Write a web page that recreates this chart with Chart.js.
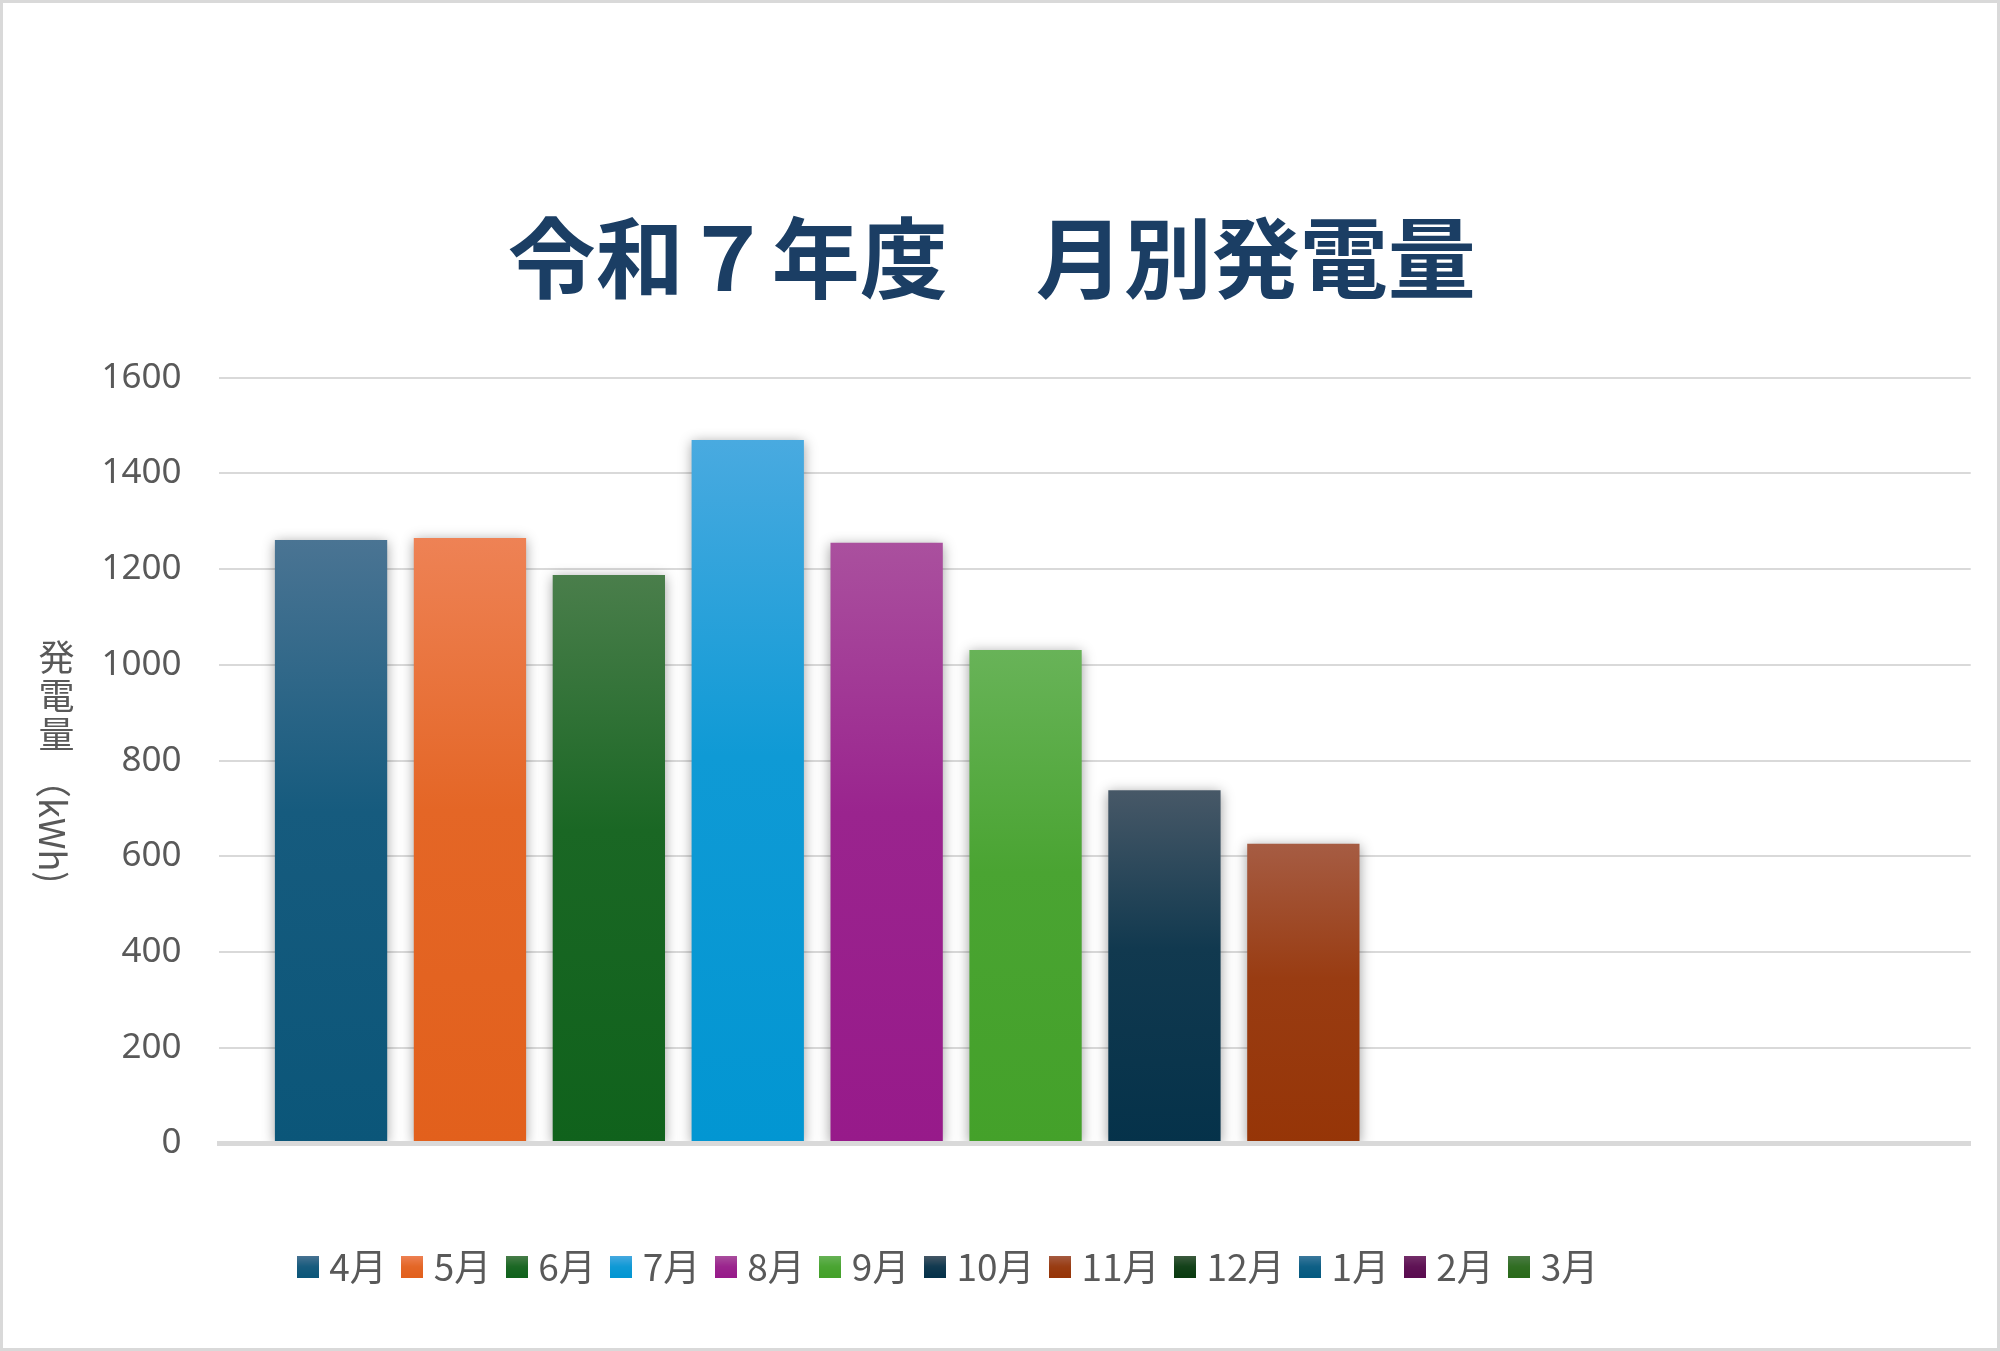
<!DOCTYPE html>
<html>
<head>
<meta charset="utf-8">
<script src="https://cdn.jsdelivr.net/npm/chart.js@4.4.1/dist/chart.umd.min.js"></script>
<style>
html,body{margin:0;padding:0;background:#fff;}
canvas{display:block;}
</style>
</head>
<body>
<canvas id="c" width="2000" height="1351"></canvas>
<script>
// ---- data ----
const chartTitle = '令和７年度　月別発電量';
const yAxisTitleUpright = ['発', '電', '量'];
const yAxisTitleRotated = '（kWh)';
const months = ['4月','5月','6月','7月','8月','9月','10月','11月','12月','1月','2月','3月'];
const generation = [1261, 1265, 1188, 1470, 1255, 1031, 738, 626, null, null, null, null];
const yMin = 0, yMax = 1600, yStep = 200;

// ---- styles ----
const topColors    = ['#4a7493','#ee8255','#4a7e4b','#49aae0','#aa509e','#68b358','#475867','#a65c43','#3e5c40','#3d7a9e','#74306a','#4d7c47'];
const bottomColors = ['#0b5679','#e2601c','#10621c','#0296d2','#971a8a','#44a12a','#05324a','#963507','#0a3b10','#045a80','#5a0c50','#2a6a1a'];

function hexToRgb(h){h=h.replace('#','');return [parseInt(h.substr(0,2),16),parseInt(h.substr(2,2),16),parseInt(h.substr(4,2),16)];}
function mix(a,b,t){const A=hexToRgb(a),B=hexToRgb(b);return 'rgb('+A.map((v,i)=>Math.round(v+(B[i]-v)*t)).join(',')+')';}

function barFill(ctx){
  const i = ctx.datasetIndex;
  const chart = ctx.chart;
  if (!chart.chartArea || ctx.raw == null) return bottomColors[i];
  const y = chart.scales.y;
  const yTop = y.getPixelForValue(ctx.raw);
  const yBot = y.getPixelForValue(0);
  const g = chart.ctx.createLinearGradient(0, yTop, 0, yBot);
  g.addColorStop(0, topColors[i]);
  g.addColorStop(0.45, mix(topColors[i], bottomColors[i], 0.82));
  g.addColorStop(1, bottomColors[i]);
  return g;
}

const swatches = months.map((m,i)=>{
  const c = document.createElement('canvas');
  c.width = 22; c.height = 22;
  const x = c.getContext('2d');
  const g = x.createLinearGradient(0,0,0,22);
  g.addColorStop(0, topColors[i]);
  g.addColorStop(0.5, mix(topColors[i], bottomColors[i], 0.8));
  g.addColorStop(1, bottomColors[i]);
  x.fillStyle = g; x.fillRect(0,0,22,22);
  return c;
});

const frame = {
  id:'frame',
  beforeDraw(chart){
    const c = chart.ctx; c.save();
    c.fillStyle = '#ffffff'; c.fillRect(0,0,chart.width,chart.height);
    c.strokeStyle = '#d9d9d9'; c.lineWidth = 3;
    c.strokeRect(1.5,1.5,chart.width-3,chart.height-3);
    c.restore();
  }
};

const barShadow = {
  id:'barShadow',
  beforeDatasetsDraw(chart){
    const c = chart.ctx; c.save();
    c.shadowColor = 'rgba(0,0,0,0.38)'; c.shadowBlur = 12; c.shadowOffsetX = 0; c.shadowOffsetY = 2;
  },
  afterDatasetsDraw(chart){ chart.ctx.restore(); }
};

const legendPlace = {
  id:'legendPlace',
  afterLayout(chart){
    const lg = chart.legend; if(!lg) return;
    const pad = lg.options.labels.padding;
    const left = 304.7 - pad;
    lg.left = left; lg.right = left + 1650; lg.width = 1650;
    const h = lg.height;
    const top = 1266.5 - 18.5 - pad;
    lg.top = top; lg.bottom = top + h;
  }
};

const yTitle = {
  id:'yTitle',
  afterDraw(chart){
    const c = chart.ctx; c.save();
    c.fillStyle = '#595959';
    c.font = '36px "Noto Sans CJK JP"';
    c.textAlign = 'center'; c.textBaseline = 'middle';
    const cx = 56.5;
    let y = 657;
    yAxisTitleUpright.forEach(ch => { c.fillText(ch, cx, y); y += 38.5; });
    c.translate(52.5, 762);
    c.rotate(Math.PI/2);
    c.textAlign = 'left';
    c.fillText(yAxisTitleRotated, 0, 0);
    c.restore();
  }
};

new Chart(document.getElementById('c'), {
  type:'bar',
  data:{
    labels:[''],
    datasets: months.map((m,i)=>({
      label:m,
      data:[generation[i]],
      backgroundColor: barFill,
      borderWidth:0,
      categoryPercentage:0.9517,
      barPercentage:0.8085
    }))
  },
  options:{
    responsive:false,
    devicePixelRatio:1,
    animation:false,
    events:[],
    layout:{padding:{left:13,right:29.3,top:0,bottom:0}},
    plugins:{
      title:{
        display:true,
        text:chartTitle,
        color:'#1b3e64',
        font:{family:'"Noto Sans CJK JP"',size:88,weight:'bold'},
        padding:{top:205.2,bottom:67}
      },
      legend:{
        display:true,
        position:'bottom',
        align:'start',
        labels:{
          usePointStyle:true,
          pointStyleWidth:6,
          padding:22.5,
          color:'#595959',
          font:{family:'"Noto Sans CJK JP"',size:37},
          generateLabels(chart){
            const items = Chart.defaults.plugins.legend.labels.generateLabels(chart);
            items.forEach((it,i)=>{ it.pointStyle = swatches[i]; it.hidden = false; it.fontColor = '#595959'; });
            return items;
          }
        }
      },
      tooltip:{enabled:false}
    },
    scales:{
      x:{
        type:'category',
        grid:{display:false,drawTicks:false},
        ticks:{display:false},
        border:{display:true,color:'#d9d9d9',width:5,z:1},
        afterFit(s){
          const lh = (s.chart.legend && s.chart.legend.height) || 69.5;
          s.height = 1351 - lh - 1143.3;
        }
      },
      y:{
        min:yMin,max:yMax,
        ticks:{stepSize:yStep,color:'#595959',padding:37.8,font:{family:'"Noto Sans"',size:35},callback:(v)=>String(v)},
        grid:{color:'#d9d9d9',lineWidth:2,drawTicks:false},
        border:{display:false},
        afterFit(s){ s.width = 206.3; }
      }
    }
  },
  plugins:[frame, barShadow, legendPlace, yTitle]
});
</script>
</body>
</html>
